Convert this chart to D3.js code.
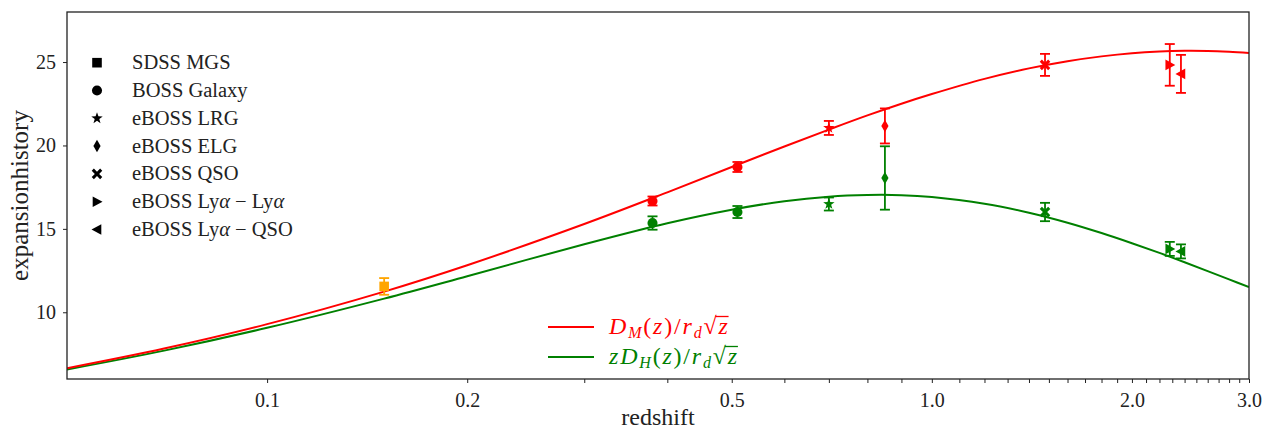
<!DOCTYPE html>
<html><head><meta charset="utf-8">
<script src="https://cdn.jsdelivr.net/npm/d3@7"></script>
<style>
body{margin:0;background:#fff}
text{font-family:"Liberation Serif","DejaVu Serif",serif;fill:#222}
</style>
</head><body>
<svg id="c" width="1264" height="432"></svg>
<script>
// ---------- data ----------
const xDomain = [0.05, 3.0];
const yDomain = [6, 28];
const xTicks = [0.1,0.2,0.3,0.4,0.5,0.6,0.7,0.8,0.9,1.0,1.1,1.2,1.3,1.4,1.5,1.6,1.7,1.8,1.9,2.0,2.1,2.2,2.3,2.4,2.5,2.6,2.7,2.8,2.9,3.0];
const xTickLabels = [0.1, 0.2, 0.5, 1.0, 2.0, 3.0];
const yTicks = [10, 15, 20, 25];

// model curves
const curveZ   = [0.05, 0.07, 0.1, 0.15, 0.2, 0.3, 0.4, 0.5, 0.6, 0.7, 0.8, 0.9, 1.0, 1.2, 1.4, 1.6, 1.8, 2.0, 2.2, 2.4, 2.6, 2.8, 3.0];
const dmCurve  = [6.65, 7.83, 9.29, 11.24, 12.82, 15.29, 17.19, 18.71, 19.94, 20.95, 21.80, 22.50, 23.08, 23.99, 24.62, 25.05, 25.34, 25.53, 25.63, 25.67, 25.66, 25.61, 25.54];
const dhCurve  = [6.57, 7.70, 9.07, 10.82, 12.16, 14.08, 15.34, 16.15, 16.66, 16.93, 17.03, 17.02, 16.91, 16.51, 15.97, 15.37, 14.75, 14.14, 13.56, 13.00, 12.47, 11.97, 11.51];

// legend entries (surveys) and their markers
const surveys = ["SDSS MGS", "BOSS Galaxy", "eBOSS LRG", "eBOSS ELG", "eBOSS QSO", "eBOSS Lyα − Lyα", "eBOSS Lyα − QSO"];
const surveyMarkers = ["square", "circle", "star", "diamond", "xfill", "triRight", "triLeft"];

// D_V point (SDSS MGS)
const dvZ = [0.15];
const dvVal = [11.55];
const dvErr = [0.5];
const dvSurvey = [0];

// D_M and zD_H measurements
const measZ      = [0.38, 0.51, 0.70, 0.85, 1.48, 2.28, 2.37];
const measSurvey = [1, 1, 2, 3, 4, 5, 6];
const dmVal = [16.67, 18.71, 21.05, 21.17, 24.83, 24.83, 24.29];
const dmErr = [0.27, 0.30, 0.42, 1.05, 0.66, 1.25, 1.14];
const dhVal = [15.35, 16.01, 16.49, 18.05, 16.01, 13.80, 13.65];
const dhErr = [0.40, 0.36, 0.39, 1.90, 0.55, 0.42, 0.42];

// ---------- drawing ----------
const RED = "#ff0000", GREEN = "#008000", ORANGE = "#ffa500";
const svg = d3.select("#c");
const m = {l: 67, r: 1249, t: 12, b: 379};
const x = d3.scaleLog().domain(xDomain).range([m.l, m.r]);
const y = d3.scaleLinear().domain(yDomain).range([m.b, m.t]);

svg.append("defs").append("clipPath").attr("id", "clip")
  .append("rect").attr("x", m.l).attr("y", m.t).attr("width", m.r - m.l).attr("height", m.b - m.t);

function markerPath(type, s) {
  switch (type) {
    case "square": return `M${-s},${-s}H${s}V${s}H${-s}Z`;
    case "circle": return d3.arc()({innerRadius: 0, outerRadius: s * 1.05, startAngle: 0, endAngle: 2 * Math.PI});
    case "star": {
      const pts = d3.range(10).map(i => {
        const a = -Math.PI / 2 + i * Math.PI / 5, r = i % 2 ? s * 0.5 : s * 1.25;
        return [r * Math.cos(a), r * Math.sin(a)];
      });
      return "M" + pts.join("L") + "Z";
    }
    case "diamond": return `M0,${-s*1.3}L${s*0.75},0L0,${s*1.3}L${-s*0.75},0Z`;
    case "xfill": {
      const a = s * 1.1, w = s * 0.45;
      const p = [[0,-w],[a-w,-a],[a,-a+w],[w,0],[a,a-w],[a-w,a],[0,w],[-a+w,a],[-a,a-w],[-w,0],[-a,-a+w],[-a+w,-a]];
      return "M" + p.join("L") + "Z";
    }
    case "triRight": return `M${-s*0.9},${-s*1.1}L${s*1.15},0L${-s*0.9},${s*1.1}Z`;
    case "triLeft": return `M${s*0.9},${-s*1.1}L${-s*1.15},0L${s*0.9},${s*1.1}Z`;
  }
}

// axes
const xAxis = d3.axisBottom(x).tickValues(xTicks).tickSize(4).tickPadding(6)
  .tickFormat(d => xTickLabels.some(v => Math.abs(v - d) < 1e-9) ? d.toFixed(1) : "");
const gx = svg.append("g").attr("transform", `translate(0,${m.b})`).call(xAxis);
gx.select(".domain").remove();
gx.selectAll("line").attr("stroke", "#222").attr("stroke-width", 1);
gx.selectAll("text").attr("font-size", 20).attr("fill", "#222").attr("dy", "0.9em")
  .attr("font-family", "Liberation Serif");

const yAxis = d3.axisLeft(y).tickValues(yTicks).tickSize(4).tickPadding(7);
const gy = svg.append("g").attr("transform", `translate(${m.l},0)`).call(yAxis);
gy.select(".domain").remove();
gy.selectAll("line").attr("stroke", "#222").attr("stroke-width", 1);
gy.selectAll("text").attr("font-size", 20).attr("fill", "#222").attr("font-family", "Liberation Serif");

// curves
const line = d3.line().x((d, i) => x(curveZ[i])).y(d => y(d)).curve(d3.curveCatmullRom.alpha(0.5));
const cg = svg.append("g").attr("clip-path", "url(#clip)");
cg.append("path").datum(dhCurve).attr("d", line).attr("fill", "none").attr("stroke", GREEN).attr("stroke-width", 2);
cg.append("path").datum(dmCurve).attr("d", line).attr("fill", "none").attr("stroke", RED).attr("stroke-width", 2);

// error bars + markers
function drawPoints(zs, vals, errs, survs, color) {
  const g = svg.append("g");
  zs.forEach((z, i) => {
    const px = x(z), py = y(vals[i]), y0 = y(vals[i] - errs[i]), y1 = y(vals[i] + errs[i]);
    g.append("line").attr("x1", px).attr("x2", px).attr("y1", y0).attr("y2", y1).attr("stroke", color).attr("stroke-width", 1.8);
    [y0, y1].forEach(yy => g.append("line").attr("x1", px - 5).attr("x2", px + 5).attr("y1", yy).attr("y2", yy)
      .attr("stroke", color).attr("stroke-width", 1.8));
    g.append("path").attr("d", markerPath(surveyMarkers[survs[i]], 4.8))
      .attr("transform", `translate(${px},${py})`).attr("fill", color);
  });
}
drawPoints(dvZ, dvVal, dvErr, dvSurvey, ORANGE);
drawPoints(measZ, dmVal, dmErr, measSurvey, RED);
drawPoints(measZ, dhVal, dhErr, measSurvey, GREEN);

// frame
svg.append("rect").attr("x", m.l).attr("y", m.t).attr("width", m.r - m.l).attr("height", m.b - m.t)
  .attr("fill", "none").attr("stroke", "#222").attr("stroke-width", 1.3);

// axis labels
svg.append("text").attr("x", (m.l + m.r) / 2).attr("y", 425).attr("text-anchor", "middle")
  .attr("font-size", 24).text("redshift");
svg.append("text").attr("transform", `translate(28,${(m.t + m.b) / 2}) rotate(-90)`).attr("text-anchor", "middle")
  .attr("font-size", 25).text("expansionhistory");

// survey legend
const lg = svg.append("g");
surveys.forEach((s, i) => {
  const yy = 62.7 + i * 27.8;
  lg.append("path").attr("d", markerPath(surveyMarkers[i], 4.8)).attr("transform", `translate(97,${yy})`).attr("fill", "#000");
  const t = lg.append("text").attr("x", 132).attr("y", yy + 6.5).attr("font-size", 20.5);
  const parts = s.split("α");
  parts.forEach((p, k) => {
    t.append("tspan").text(p);
    if (k < parts.length - 1) t.append("tspan").attr("font-style", "italic").text("α");
  });
});

// curve legend
function mathLabel(yy, color, prefixZ, sub) {
  lg.append("line").attr("x1", 548).attr("x2", 594).attr("y1", yy).attr("y2", yy).attr("stroke", color).attr("stroke-width", 2);
  const t = lg.append("text").attr("x", 609).attr("y", yy + 7).attr("font-size", 24).attr("letter-spacing", 1.8).style("fill", color);
  if (prefixZ) t.append("tspan").attr("font-style", "italic").text("z");
  t.append("tspan").attr("font-style", "italic").text("D");
  t.append("tspan").attr("font-style", "italic").attr("font-size", 16).attr("dy", 4).text(sub);
  t.append("tspan").attr("dy", -4).text("(");
  t.append("tspan").attr("font-style", "italic").text("z");
  t.append("tspan").text(")/");
  t.append("tspan").attr("font-style", "italic").text("r");
  t.append("tspan").attr("font-style", "italic").attr("font-size", 16).attr("dy", 4).text("d");
  t.append("tspan").attr("dy", -4).text("√");
  t.append("tspan").attr("font-style", "italic").text("z");
  const n = t.node(), k = n.getNumberOfChars();
  const rad = n.getExtentOfChar(k - 2), zz = n.getExtentOfChar(k - 1);
  lg.append("line").attr("x1", rad.x + rad.width - 3).attr("x2", zz.x + zz.width - 1)
    .attr("y1", rad.y + 3.5).attr("y2", rad.y + 3.5).attr("stroke", color).attr("stroke-width", 1.3);
}
mathLabel(327, RED, false, "M");
mathLabel(357, GREEN, true, "H");
</script>
</body></html>
